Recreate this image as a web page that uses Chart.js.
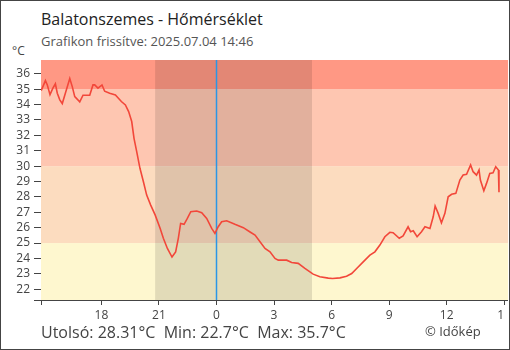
<!DOCTYPE html>
<html lang="hu">
<head>
<meta charset="UTF-8">
<title>Balatonszemes - Hőmérséklet</title>
<script src="https://cdn.jsdelivr.net/npm/chart.js"></script>
<style>
  body { margin: 0; width: 510px; height: 350px; position: relative; background: #fff; font-family: "Open Sans", sans-serif; overflow: hidden; }
  .frame { position: absolute; left: 0; top: 0; width: 508px; height: 348px; border: 1px solid #444; pointer-events: none; z-index: 5; }
  .mask { position: absolute; left: 505px; top: 306px; width: 4px; height: 20px; background: #fff; z-index: 4; }
  .txt { position: absolute; white-space: nowrap; }
  #title { left: 41px; top: 8px; font-size: 16px; color: #222; }
  #sub { left: 41px; top: 32px; font-size: 13px; color: #555; }
  #unit { left: 12px; top: 42px; font-size: 12px; color: #444; }
  #stats { left: 41px; top: 321px; font-size: 16px; color: #444; }
  #copy { left: 425px; top: 322px; font-size: 13px; color: #444; }
  #wrap { position: absolute; left: 0; top: 0; width: 508px; height: 322px; }
</style>
</head>
<body>
<div class="frame"></div>
<div class="mask"></div>
<div class="txt" id="title">Balatonszemes - Hőmérséklet</div>
<div class="txt" id="sub">Grafikon frissítve: 2025.07.04 14:46</div>
<div class="txt" id="unit">°C</div>
<div id="wrap"><canvas id="chart"></canvas></div>
<div class="txt" id="stats">Utolsó: 28.31°C&nbsp; Min: 22.7°C&nbsp; Max: 35.7°C</div>
<div class="txt" id="copy">© Időkép</div>
<script>
// hours relative to midnight (negative = previous day)
var hours = [-9.14,-8.92,-8.82,-8.68,-8.53,-8.40,-8.30,-8.17,-8.04,-7.88,-7.65,-7.52,-7.39,-7.13,-6.96,-6.61,-6.44,-6.35,-6.18,-5.97,
  -5.83,-5.57,-5.27,-4.96,-4.75,-4.58,-4.42,-4.30,-4.16,-3.99,-3.81,-3.64,-3.43,-3.20,-2.94,-2.77,-2.56,-2.32,-2.13,-1.99,
  -1.87,-1.69,-1.52,-1.34,-1.03,-0.77,-0.51,-0.25,-0.08,0.09,0.27,0.53,0.96,1.40,1.75,2.01,2.27,2.53,2.79,3.05,
  3.22,3.66,3.92,4.26,4.61,5.04,5.39,5.83,6.05,6.44,6.78,7.05,7.31,7.65,8.00,8.26,8.52,8.78,9.04,9.21,
  9.53,9.73,9.99,10.12,10.26,10.46,10.69,10.87,11.13,11.30,11.40,11.56,11.73,11.91,12.08,12.26,12.48,12.69,12.86,13.04,
  13.25,13.38,13.56,13.69,13.76,13.94,14.08,14.25,14.42,14.56,14.70,14.73];
var temps = [34.91,35.56,35.28,34.65,35.07,35.35,34.74,34.31,34.07,34.74,35.7,35.17,34.52,34.18,34.61,34.61,35.28,35.28,35.07,35.28,
  34.87,34.74,34.63,34.2,33.98,33.55,32.9,31.81,30.94,29.86,28.99,28.12,27.47,26.83,25.96,25.31,24.65,24.09,24.43,25.31,
  26.28,26.22,26.6,27.04,27.08,26.97,26.6,25.96,25.63,26.06,26.39,26.45,26.22,26.0,25.72,25.52,25.09,24.65,24.43,24.0,
  23.89,23.89,23.74,23.68,23.35,22.98,22.81,22.72,22.7,22.74,22.85,23.02,23.35,23.78,24.22,24.43,24.87,25.41,25.7,25.67,
  25.31,25.46,26.06,25.74,25.8,25.41,25.74,26.06,25.95,26.71,27.41,26.93,26.32,26.93,28.01,28.17,28.23,29.1,29.42,29.47,
  30.08,29.64,29.42,29.75,29.1,28.4,28.88,29.53,29.57,29.96,29.75,28.31];

var xRange = [-9.15, 15.2];
var xTickHours = [-6, -3, 0, 3, 6, 9, 12, 15];
var yRange = [21.3, 36.9];
var yTickValues = [22, 23, 24, 25, 26, 27, 28, 29, 30, 31, 32, 33, 34, 35, 36];
var bandEdges = [25, 30, 35];
var bandColors = ['#fef7cf', '#fcdcbf', '#fec6b1', '#ff9884'];
var night = [-3.2, 4.98];

var backdrop = {
  id: 'backdrop',
  beforeDatasetsDraw: function (chart) {
    var ctx = chart.ctx, a = chart.chartArea, xs = chart.scales.x, ys = chart.scales.y;
    ctx.save();
    ctx.beginPath();
    ctx.rect(a.left, a.top, a.right - a.left, a.bottom - a.top);
    ctx.clip();
    var edges = [yRange[0]].concat(bandEdges, [yRange[1]]);
    for (var i = 0; i < bandColors.length; i++) {
      var y1 = ys.getPixelForValue(edges[i + 1]);
      var y0 = ys.getPixelForValue(edges[i]);
      ctx.fillStyle = bandColors[i];
      ctx.fillRect(a.left, y1, a.right - a.left, y0 - y1);
    }
    var n0 = xs.getPixelForValue(night[0]), n1 = xs.getPixelForValue(night[1]);
    ctx.fillStyle = 'rgba(0,0,0,0.11)';
    ctx.fillRect(n0, a.top, n1 - n0, a.bottom - a.top);
    var mx = Math.round(xs.getPixelForValue(0)) + 0.5;
    ctx.strokeStyle = '#2a96e6';
    ctx.lineWidth = 1.5;
    ctx.beginPath();
    ctx.moveTo(mx, a.top);
    ctx.lineTo(mx, a.bottom);
    ctx.stroke();
    ctx.restore();
  }
};

var points = hours.map(function (h, i) { return { x: h, y: temps[i] }; });

new Chart(document.getElementById('chart'), {
  type: 'line',
  data: {
    datasets: [{
      data: points,
      borderColor: '#f2473a',
      borderWidth: 1.6,
      pointRadius: 0,
      tension: 0,
      fill: false
    }]
  },
  options: {
    responsive: true,
    maintainAspectRatio: false,
    animation: false,
    layout: { padding: { top: 60, left: 0, right: 0, bottom: 0 } },
    plugins: { legend: { display: false }, tooltip: { enabled: false } },
    scales: {
      x: {
        type: 'linear',
        min: xRange[0],
        max: xRange[1],
        afterBuildTicks: function (s) {
          s.ticks = [{ value: xRange[0] }].concat(xTickHours.map(function (v) { return { value: v }; }));
        },
        afterFit: function (s) { s.height = 22; s.paddingLeft = 0; s.paddingRight = 0; },
        ticks: {
          autoSkip: false,
          maxRotation: 0,
          padding: 3,
          color: '#444',
          font: { family: 'Open Sans', size: 12 },
          callback: function (v) { return xTickHours.indexOf(v) < 0 ? '' : String((v + 24) % 24); }
        },
        grid: { drawOnChartArea: false, drawTicks: true, tickLength: 5, color: '#444' },
        border: { display: true, color: '#444' }
      },
      y: {
        min: yRange[0],
        max: yRange[1],
        afterBuildTicks: function (s) {
          s.ticks = [{ value: yRange[0] }].concat(yTickValues.map(function (v) { return { value: v }; }));
        },
        afterFit: function (s) { s.width = 41; s.paddingTop = 0; s.paddingBottom = 0; },
        ticks: {
          autoSkip: false,
          padding: 4,
          color: '#444',
          font: { family: 'Open Sans', size: 12 },
          callback: function (v) { return yTickValues.indexOf(v) < 0 ? '' : String(v); }
        },
        grid: { drawOnChartArea: false, drawTicks: true, tickLength: 7, color: '#444' },
        border: { display: true, color: '#444' }
      }
    }
  },
  plugins: [backdrop]
});
</script>
</body>
</html>
